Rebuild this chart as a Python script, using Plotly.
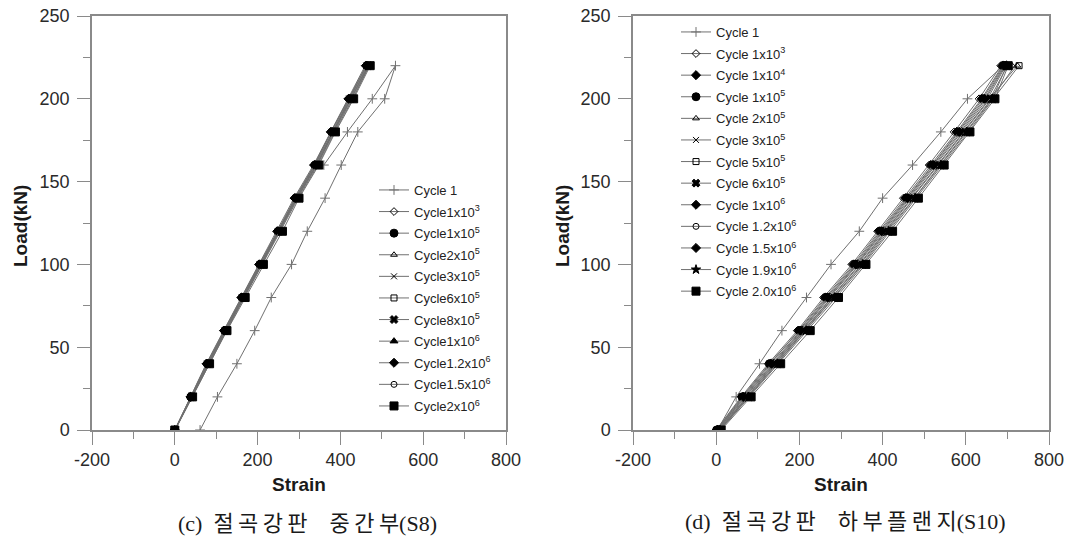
import plotly.graph_objects as go

# ---------------- data ----------------
loads = [0, 20, 40, 60, 80, 100, 120, 140, 160, 180, 200, 220]

# (c) S8 panel
c_cycle1_load = [160, 180, 200, 220, 200, 180, 160, 140, 120, 100, 80, 60, 40, 20, 0]
c_cycle1_strain = [360, 417, 477, 533, 507, 442, 402, 363, 320, 282, 233, 193, 150, 103, 61]
c_names = ["Cycle1x10<sup>3</sup>", "Cycle1x10<sup>5</sup>", "Cycle2x10<sup>5</sup>",
           "Cycle3x10<sup>5</sup>", "Cycle6x10<sup>5</sup>", "Cycle8x10<sup>5</sup>",
           "Cycle1x10<sup>6</sup>", "Cycle1.2x10<sup>6</sup>", "Cycle1.5x10<sup>6</sup>",
           "Cycle2x10<sup>6</sup>"]
c_strains = [
    [0, 37, 76, 118, 160, 203, 246, 288, 335, 376, 418, 460],
    [0, 39, 79, 121, 163, 206, 250, 292, 339, 380, 423, 464],
    [0, 40, 80, 122, 165, 208, 252, 294, 342, 382, 425, 467],
    [0, 38, 78, 120, 162, 205, 249, 291, 338, 378, 421, 463],
    [1, 42, 83, 125, 168, 212, 256, 298, 346, 386, 430, 470],
    [0, 40, 81, 123, 166, 209, 253, 295, 343, 383, 426, 468],
    [0, 39, 80, 122, 164, 207, 251, 293, 341, 381, 424, 466],
    [0, 38, 77, 119, 161, 204, 248, 290, 337, 377, 420, 462],
    [0, 41, 82, 124, 167, 210, 254, 296, 344, 384, 428, 469],
    [0, 43, 84, 126, 170, 214, 260, 300, 348, 388, 432, 472],
]
c_symbols = ["diamond-open", "circle", "triangle-up-open", "x-thin-open", "square-open",
             "x", "triangle-up", "diamond", "circle-open", "square"]

# (d) S10 panel
d_cycle1_strain = [3, 48, 104, 158, 217, 276, 344, 400, 472, 540, 604, 690]
d_names = ["Cycle 1x10<sup>3</sup>", "Cycle 1x10<sup>4</sup>", "Cycle 1x10<sup>5</sup>",
           "Cycle 2x10<sup>5</sup>", "Cycle 3x10<sup>5</sup>", "Cycle 5x10<sup>5</sup>",
           "Cycle 6x10<sup>5</sup>", "Cycle 1x10<sup>6</sup>", "Cycle 1.2x10<sup>6</sup>",
           "Cycle 1.5x10<sup>6</sup>", "Cycle 1.9x10<sup>6</sup>", "Cycle 2.0x10<sup>6</sup>"]
d_strains = [
    [0, 60, 125, 195, 258, 326, 388, 450, 512, 572, 632, 684],
    [2, 64, 130, 198, 262, 330, 392, 455, 516, 578, 638, 688],
    [1, 62, 128, 200, 265, 333, 395, 458, 520, 581, 641, 690],
    [6, 72, 140, 210, 276, 344, 406, 470, 532, 594, 656, 724],
    [8, 76, 145, 214, 282, 350, 410, 476, 538, 600, 662, 718],
    [10, 80, 150, 220, 288, 355, 418, 482, 544, 606, 666, 728],
    [4, 68, 136, 205, 270, 338, 400, 463, 525, 587, 648, 694],
    [5, 70, 138, 207, 273, 340, 403, 466, 528, 590, 652, 696],
    [7, 74, 142, 211, 278, 346, 408, 472, 534, 596, 658, 700],
    [3, 66, 133, 203, 268, 336, 398, 460, 522, 584, 645, 692],
    [9, 78, 147, 216, 284, 352, 414, 478, 540, 602, 664, 698],
    [12, 84, 155, 226, 294, 360, 424, 486, 548, 610, 670, 702],
]
d_symbols = ["diamond-open", "diamond", "circle", "triangle-up-open", "x-thin-open",
             "square-open", "x", "diamond", "circle-open", "diamond", "star", "square"]

x_ticks = [-200, 0, 200, 400, 600, 800]
x_tick_text = ["-200", "0", "200", "400", "600", "800"]
y_ticks = [0, 50, 100, 150, 200, 250]
y_tick_text = ["0", "50", "100", "150", "200", "250"]

caption_c = "(c)  절\u2009곡\u2009강\u2009판\u2003중\u2009간\u2009부(S8)"
caption_d = "(d)  절\u2009곡\u2009강\u2009판\u2003하\u2009부\u2009플\u2009랜\u2009지(S10)"

# ---------------- styling ----------------
W, H = 1070, 540
LINE = "#707070"
AX = "#8a8a8a"
FONT = "Liberation Sans, Arial, sans-serif"


def sym_style(sym):
    size = 7
    color = "black"
    if sym in ("diamond-open", "x-thin-open", "triangle-up-open", "square-open", "circle-open"):
        size = 6
    if sym in ("circle", "square"):
        size = 8
    return dict(symbol=sym, size=size, color=color, line=dict(color=color, width=1))


fig = go.Figure()

# panel (c)
fig.add_trace(go.Scatter(x=c_cycle1_strain, y=c_cycle1_load, mode="lines+markers",
                         name="Cycle 1", xaxis="x", yaxis="y", legend="legend",
                         legendgroup="c0",
                         line=dict(color=LINE, width=1),
                         marker=dict(symbol="cross-thin-open", size=7,
                                     line=dict(color="#555", width=1))))
for i, (nm, st, sy) in enumerate(zip(c_names, c_strains, c_symbols)):
    fig.add_trace(go.Scatter(x=st, y=loads, mode="lines+markers", name=nm,
                             xaxis="x", yaxis="y", legend="legend", legendgroup=f"c{i+1}",
                             line=dict(color=LINE, width=1), marker=sym_style(sy)))

# panel (d)
fig.add_trace(go.Scatter(x=d_cycle1_strain, y=loads, mode="lines+markers",
                         name="Cycle 1", xaxis="x2", yaxis="y2", legend="legend2",
                         legendgroup="d0",
                         line=dict(color=LINE, width=1),
                         marker=dict(symbol="cross-thin-open", size=7,
                                     line=dict(color="#555", width=1))))
for i, (nm, st, sy) in enumerate(zip(d_names, d_strains, d_symbols)):
    fig.add_trace(go.Scatter(x=st, y=loads, mode="lines+markers", name=nm,
                             xaxis="x2", yaxis="y2", legend="legend2", legendgroup=f"d{i+1}",
                             line=dict(color=LINE, width=1), marker=sym_style(sy)))


def px(x):
    return x / W


def py(y):
    return 1 - y / H


xdom1 = [px(92), px(506)]
xdom2 = [px(633), px(1049)]
ydom = [py(430), py(16)]

common_x = dict(range=[-200, 800], tickvals=x_ticks, ticktext=x_tick_text, ticks="outside",
                ticklen=13, tickcolor=AX, tickwidth=1.2, showline=True, linecolor=AX,
                linewidth=1.5, mirror=True, showgrid=False, zeroline=False, automargin=False,
                tickfont=dict(size=18, color="#2a2a2a", family=FONT),
                ticklabelstandoff=0, ticklabeloverflow="allow",
                minor=dict(dtick=100, tick0=0, ticks="outside", ticklen=7,
                           tickcolor=AX, tickwidth=1.2, showgrid=False))
common_y = dict(range=[0, 250], tickvals=y_ticks, ticktext=y_tick_text, ticks="outside",
                ticklen=13, tickcolor=AX, tickwidth=1.2, showline=True, linecolor=AX,
                linewidth=1.5, mirror=True, showgrid=False, zeroline=False, automargin=False,
                tickfont=dict(size=18, color="#2a2a2a", family=FONT),
                ticklabelstandoff=4, ticklabeloverflow="allow",
                minor=dict(dtick=25, tick0=0, ticks="outside", ticklen=7,
                           tickcolor=AX, tickwidth=1.2, showgrid=False))

legend_common = dict(font=dict(size=13, family=FONT, color="#222"),
                     bgcolor="rgba(0,0,0,0)", borderwidth=0,
                     xanchor="left", yanchor="top", tracegroupgap=1.7, itemsizing="trace")

fig.update_layout(
    width=W, height=H, margin=dict(l=0, r=0, t=0, b=0, autoexpand=False),
    paper_bgcolor="white", plot_bgcolor="white",
    xaxis=dict(domain=xdom1, anchor="y", **common_x),
    yaxis=dict(domain=ydom, anchor="x", **common_y),
    xaxis2=dict(domain=xdom2, anchor="y2", **common_x),
    yaxis2=dict(domain=ydom, anchor="x2", **common_y),
    legend=dict(x=px(374), y=py(175), **legend_common),
    legend2=dict(x=px(676), y=py(17), **legend_common),
    showlegend=True,
)

ann = []
TF = dict(size=19, family=FONT, color="#1a1a1a")
for cx in (299, 841):
    ann.append(dict(text="<b>Strain</b>", x=px(cx), y=py(484), xref="paper", yref="paper",
                    showarrow=False, font=TF, xanchor="center", yanchor="middle"))
for cx in (20, 562):
    ann.append(dict(text="<b>Load(kN)</b>", x=px(cx), y=py(226), xref="paper", yref="paper",
                    showarrow=False, font=TF, textangle=-90, xanchor="center", yanchor="middle"))
CF = dict(size=22, family="Liberation Serif, Noto Sans CJK KR, serif", color="#1a1a1a")
ann.append(dict(text=caption_c, x=px(307), y=py(523), xref="paper", yref="paper",
                showarrow=False, font=CF, xanchor="center", yanchor="middle"))
ann.append(dict(text=caption_d, x=px(845), y=py(521), xref="paper", yref="paper",
                showarrow=False, font=CF, xanchor="center", yanchor="middle"))
fig.update_layout(annotations=ann)

fig.write_html("out.html", config={"displayModeBar": False},
               post_script="document.body.style.margin='0';document.body.style.overflow='hidden';")
